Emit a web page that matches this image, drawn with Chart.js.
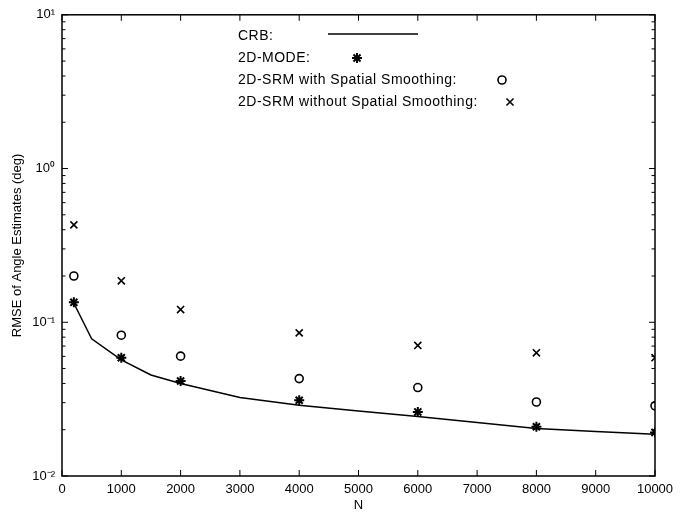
<!DOCTYPE html>
<html>
<head>
<meta charset="utf-8">
<script src="https://cdn.jsdelivr.net/npm/chart.js@4.4.1/dist/chart.umd.min.js"></script>
<style>
  html, body { margin: 0; padding: 0; background: #fff; }
  #wrap { width: 681px; height: 518px; position: relative; }
</style>
</head>
<body>
<div id="wrap"><canvas id="plot"></canvas></div>
<script>
// values
const nMarkers = [200, 1000, 2000, 4000, 6000, 8000, 10000];
const modeRmse = [0.1348, 0.0588, 0.0415, 0.0311, 0.0261, 0.0209, 0.0192];
const srmWithSS = [0.200, 0.0824, 0.0602, 0.0430, 0.0376, 0.0303, 0.0286];
const srmWithoutSS = [0.430, 0.186, 0.121, 0.0853, 0.0707, 0.0633, 0.0588];

const nCrb = [200, 500, 1000, 1500, 2000, 3000, 4000, 5000, 6000, 7000, 8000, 9000, 10000];
const crb = [0.133, 0.078, 0.057, 0.0454, 0.040, 0.0324, 0.0289, 0.0265, 0.0244, 0.0223, 0.0204, 0.0195, 0.0187];

const xTicks = [0, 1000, 2000, 3000, 4000, 5000, 6000, 7000, 8000, 9000, 10000];
const yDecades = [0.01, 0.1, 1, 10];
const yTickLabels = ['10\u207B\u00B2', '10\u207B\u00B9', '10\u2070', '10\u00B9'];

const legendItems = [
  { text: 'CRB:', kind: 'line' },
  { text: '2D-MODE:', kind: 'star' },
  { text: '2D-SRM with Spatial Smoothing:', kind: 'circle' },
  { text: '2D-SRM without Spatial Smoothing:', kind: 'crossRot' }
];

const FONT = '"Liberation Sans", Arial, sans-serif';

function pts(xs, ys) {
  return xs.map((x, i) => ({ x: x, y: ys[i] }));
}

// box with inward ticks, matlab style
const boxPlugin = {
  id: 'box',
  afterDatasetsDraw(chart) {
    const { ctx, chartArea: a, scales } = chart;
    const xs = scales.x, ys = scales.y;
    ctx.save();
    ctx.strokeStyle = '#000';
    ctx.lineWidth = 1.5;
    ctx.strokeRect(a.left, a.top, a.right - a.left, a.bottom - a.top);
    ctx.lineWidth = 1;
    ctx.beginPath();
    xTicks.forEach(v => {
      const px = xs.getPixelForValue(v);
      ctx.moveTo(px, a.bottom); ctx.lineTo(px, a.bottom - 6);
      ctx.moveTo(px, a.top); ctx.lineTo(px, a.top + 6);
    });
    yDecades.forEach((d, i) => {
      for (let m = 1; m < 10; m++) {
        if (i === yDecades.length - 1 && m > 1) break;
        const py = ys.getPixelForValue(d * m);
        const len = m === 1 ? 6 : 3.5;
        ctx.moveTo(a.left, py); ctx.lineTo(a.left + len, py);
        ctx.moveTo(a.right, py); ctx.lineTo(a.right - len, py);
      }
    });
    ctx.stroke();

    // legend inside the axes
    ctx.font = '14px ' + FONT;
    ctx.letterSpacing = '0.5px';
    ctx.textBaseline = 'middle';
    const lx = 238, ly0 = 36, dy = 22;
    const markX = [null, 357, 502, 510];
    legendItems.forEach((it, i) => {
      const y = ly0 + i * dy;
      ctx.fillStyle = '#000';
      ctx.fillText(it.text, lx, y);
      if (it.kind === 'line') {
        ctx.lineWidth = 1.5;
        ctx.beginPath();
        ctx.moveTo(328, y - 2); ctx.lineTo(418, y - 2);
        ctx.stroke();
      } else {
        const ds = chart.data.datasets.find(d => d.pointStyle === it.kind);
        ctx.lineWidth = ds.borderWidth;
        ctx.fillStyle = ds.backgroundColor || '#000';
        Chart.helpers.drawPoint(ctx, {
          pointStyle: it.kind, radius: ds.pointRadius, borderWidth: ds.borderWidth, rotation: 0
        }, markX[i], y);
      }
    });
    ctx.restore();
  }
};

new Chart(document.getElementById('plot'), {
  type: 'scatter',
  data: {
    datasets: [
      {
        label: 'CRB',
        data: pts(nCrb, crb),
        showLine: true,
        borderColor: '#000',
        borderWidth: 1.5,
        pointRadius: 0,
        tension: 0
      },
      {
        label: '2D-MODE',
        data: pts(nMarkers, modeRmse),
        pointStyle: 'star',
        pointRadius: 5,
        borderColor: '#000',
        backgroundColor: '#000',
        borderWidth: 2
      },
      {
        label: '2D-SRM with Spatial Smoothing',
        data: pts(nMarkers, srmWithSS),
        pointStyle: 'circle',
        pointRadius: 4,
        borderColor: '#000',
        backgroundColor: 'rgba(0,0,0,0)',
        borderWidth: 1.6
      },
      {
        label: '2D-SRM without Spatial Smoothing',
        data: pts(nMarkers, srmWithoutSS),
        pointStyle: 'crossRot',
        pointRadius: 5,
        borderColor: '#000',
        borderWidth: 1.6
      }
    ]
  },
  options: {
    responsive: true,
    maintainAspectRatio: false,
    animation: false,
    layout: { padding: { top: 14, right: 26, left: 0, bottom: 0 } },
    plugins: { legend: { display: false }, tooltip: { enabled: false } },
    scales: {
      x: {
        type: 'linear',
        min: 0,
        max: 10000,
        grid: { display: false, drawTicks: false },
        border: { display: false },
        ticks: {
          stepSize: 1000,
          padding: 6,
          color: '#000',
          font: { family: FONT, size: 13 },
          maxRotation: 0,
          callback: (v) => String(v)
        },
        title: {
          display: true, text: 'N', color: '#000',
          font: { family: FONT, size: 13 }, padding: { top: 0, bottom: 5 }
        },
        afterFit(scale) { scale.height = 42; }
      },
      y: {
        type: 'logarithmic',
        min: 0.01,
        max: 10,
        grid: { display: false, drawTicks: false },
        border: { display: false },
        afterBuildTicks(scale) {
          scale.ticks = yDecades.map(v => ({ value: v }));
        },
        ticks: {
          autoSkip: false,
          padding: 7,
          color: '#000',
          font: { family: FONT, size: 13 },
          callback: (v) => {
            const i = yDecades.findIndex(d => Math.abs(d - v) / d < 1e-6);
            return i >= 0 ? yTickLabels[i] : '';
          }
        },
        title: {
          display: true, text: 'RMSE of Angle Estimates (deg)', color: '#000',
          font: { family: FONT, size: 13 }, padding: { top: 10, bottom: 0 }
        },
        afterFit(scale) { scale.width = 62; }
      }
    }
  },
  plugins: [boxPlugin]
});
</script>
</body>
</html>
